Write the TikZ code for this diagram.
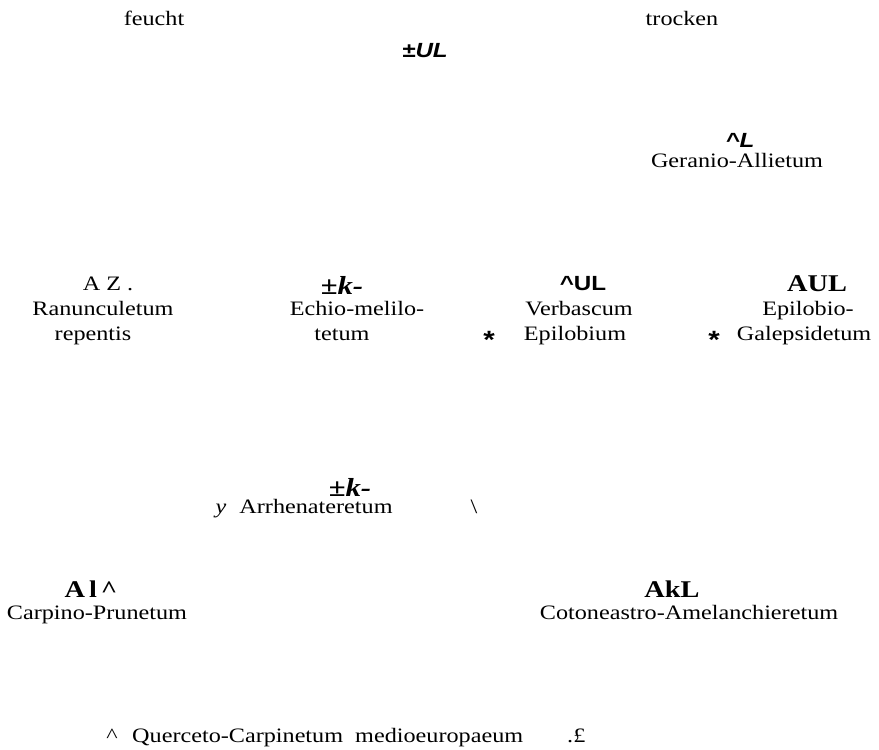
\documentclass[tikz,border=0pt]{standalone}
\usepackage{fontspec}
\setmainfont[FakeStretch=1.18]{Liberation Serif}
\newfontfamily\codesf[FakeStretch=1.18]{Liberation Sans}
\usepackage{tikz}

\tikzset{
  txt/.style={anchor=base, inner sep=0pt, font=\fontsize{20.5}{25}\selectfont},
  txtw/.style={txt, anchor=base west},
  codeser/.style={txt, font=\fontsize{24}{25}\selectfont\bfseries},
  codeit/.style={txt, font=\fontsize{26}{25}\selectfont\bfseries\itshape},
  codesf/.style={txt, font=\fontsize{20.5}{25}\selectfont\codesf\bfseries},
  codesfit/.style={txt, font=\fontsize{20.5}{25}\selectfont\codesf\bfseries\itshape},
  star/.style={txt, font=\fontsize{25}{30}\selectfont\codesf\bfseries}
}

\begin{document}
\begin{tikzpicture}[x=1pt,y=-1pt]
  \useasboundingbox (0,0) rectangle (879,750);

  % gradient
  \node[txt] (feucht)  at (154,25) {feucht};
  \node[txt] (trocken) at (682,25) {trocken};
  \node[codesfit] (cTop) at (425,57) {\char"00B1 UL};

  \node[codesfit] (cGer) at (740,147) {\textasciicircum L};
  \node[txt] (ger) at (737,167) {Geranio-Allietum};

  % middle row
  \node[txt] (cRan)  at (108,290) {A Z .};
  \node[txt] (ran1)  at (103,315) {Ranunculetum};
  \node[txt] (ran2)  at (93,340)  {repentis};

  \node[codeit] (cEch) at (342,294) {\char"00B1 k-};
  \node[txt] (ech1)  at (357,315) {Echio-melilo-};
  \node[txt] (ech2)  at (342,340) {tetum};

  \node[star] (s1)   at (489,348) {*};
  \node[codesf] (cVer) at (583,290) {\textasciicircum UL};
  \node[txt] (ver1)  at (579,315) {Verbascum};
  \node[txt] (ver2)  at (575,340) {Epilobium};

  \node[star] (s2)   at (714,348) {*};
  \node[codeser] (cEpi) at (817,291) {AUL};
  \node[txt] (epi1)  at (808,315) {Epilobio-};
  \node[txt] (epi2)  at (804,340) {Galepsidetum};

  % Arrhenateretum
  \node[codeit] (cArr) at (350,496) {\char"00B1 k-};
  \node[txt, font=\fontsize{20.5}{25}\selectfont\itshape] (yArr) at (221,513) {y};
  \node[txt] (arr)   at (316,513) {Arrhenateretum};
  \node[txt] (bsl)   at (474,513) {\textbackslash};

  % shrubs
  \node[codeser] (cCar) at (91,597) {A\,l\,\textasciicircum};
  \node[txt] (car)   at (97,619) {Carpino-Prunetum};
  \node[codeser] (cCot) at (672,597) {AkL};
  \node[txt] (cot)   at (689,619) {Cotoneastro-Amelanchieretum};

  % forest
  \node[txt] (hQue)  at (112,742) {\textasciicircum};
  \node[txtw] (que)  at (132,742) {Querceto-Carpinetum\ \ medioeuropaeum};
  \node[txtw] (pnd)  at (567,742) {.\pounds};
\end{tikzpicture}
\end{document}
